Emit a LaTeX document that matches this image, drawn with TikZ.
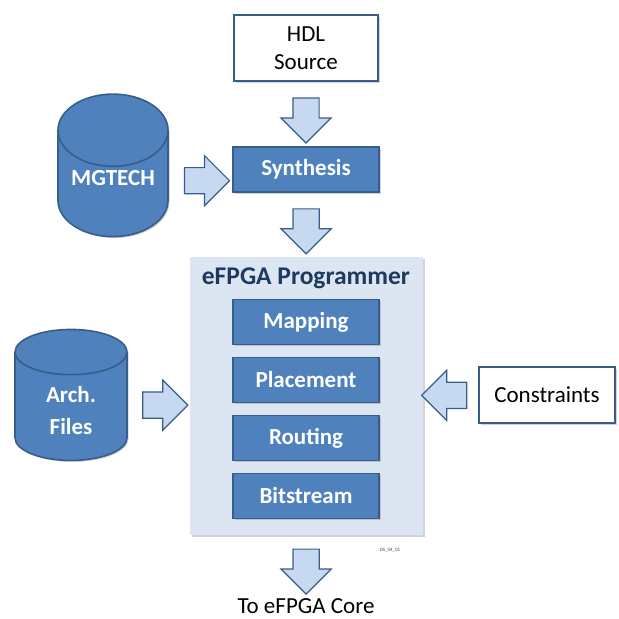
\documentclass[tikz,border=0pt]{standalone}
\usepackage{fontspec}
\setmainfont{Carlito}
\usetikzlibrary{shapes.geometric, shapes.arrows, shadows, positioning}
\definecolor{boxblue}{HTML}{4F81BD}
\definecolor{edgeblue}{HTML}{385D8A}
\definecolor{arrowfill}{HTML}{C6D9F1}
\definecolor{panelfill}{HTML}{DCE6F2}
\definecolor{titletext}{HTML}{1F3A5F}
\tikzstyle{boxshadow} = [drop shadow={opacity=0.35, shadow xshift=1.5pt, shadow yshift=-1.5pt}]
\tikzstyle{stagebox} = [rectangle, minimum width=146pt, minimum height=45pt, draw=edgeblue, line width=1.6pt, fill=boxblue, text=white, font=\fontsize{23}{26}\selectfont\bfseries, boxshadow]
\tikzstyle{inputbox} = [rectangle, draw=edgeblue, line width=1.6pt, fill=white, align=center, font=\fontsize{23}{28}\selectfont, boxshadow]
\tikzstyle{dbcyl} = [cylinder, shape border rotate=90, aspect=0.8, draw=edgeblue, line width=1.6pt, fill=boxblue, text=white, align=center, font=\fontsize{23}{32}\selectfont\bfseries, boxshadow]
\tikzstyle{flowarrow} = [single arrow, draw=edgeblue, fill=arrowfill, line width=1.2pt, inner xsep=0pt, inner ysep=12.5pt, single arrow head extend=12pt, minimum height=45pt]

\begin{document}
\begin{tikzpicture}[x=1pt, y=-1pt, node distance=58pt]
        \useasboundingbox (0,0) rectangle (619,619);
        % inputs
        \node (hdl) [inputbox, minimum width=144pt, minimum height=66pt] at (306,48) {HDL\\Source};
        \node (synth) [stagebox] at (306,169.5) {Synthesis};
        \node (mgtech) [dbcyl, minimum width=110pt, minimum height=131pt, text depth=24pt] at (113,190) {MGTECH};
        % programmer panel
        \node (prog) [rectangle, fill=panelfill, minimum width=233pt, minimum height=278pt, boxshadow] at (306.5,396) {};
        \node (progtitle) [text=titletext, font=\fontsize{25.5}{28}\selectfont\bfseries] at (306,278) {eFPGA Programmer};
        \node (mapping) [stagebox] at (306,322) {Mapping};
        \node (placement) [stagebox, below of=mapping] {Placement};
        \node (routing) [stagebox, below of=placement] {Routing};
        \node (bitstream) [stagebox, below of=routing] {Bitstream};
        \node (arch) [dbcyl, minimum width=112pt, minimum height=131pt] at (71,410.5) {Arch.\\Files};
        \node (constr) [inputbox, minimum width=136pt, minimum height=56pt] at (547,395) {Constraints};
        \node (core) [font=\fontsize{23}{26}\selectfont] at (306,606) {To eFPGA Core};
        \node (tag) [font=\fontsize{5}{6}\selectfont, text=black!70] at (390,550) {DS\_04\_01};
        % block arrows
        \path (hdl) -- node [flowarrow, rotate=-90] (a1) {} (synth);
        \path (mgtech) -- node [flowarrow] (a2) {} (synth);
        \path (synth) -- node [flowarrow, rotate=-90] (a3) {} (prog);
        \path (arch) -- node [flowarrow] (a4) {} (prog);
        \path (constr) -- node [flowarrow, rotate=180] (a5) {} (prog);
        \path (prog) -- node [flowarrow, rotate=-90] (a6) {} (core);
    \end{tikzpicture}
\end{document}
